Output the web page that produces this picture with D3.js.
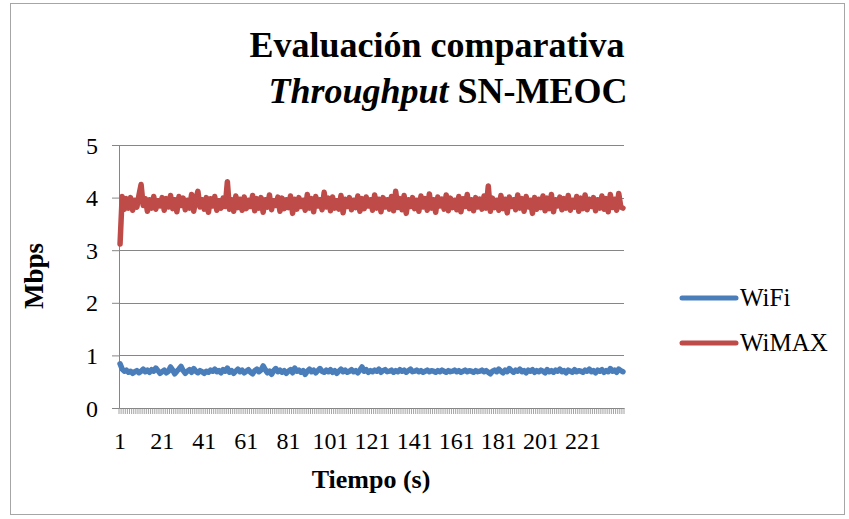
<!DOCTYPE html>
<html>
<head>
<meta charset="utf-8">
<script src="https://cdn.jsdelivr.net/npm/d3@7/dist/d3.min.js"></script>
<style>
  body { margin: 0; background: #fff; }
</style>
</head>
<body>
<script>
// values (Mbps per second)
const wifi = [
  0.84, 0.74, 0.70, 0.72, 0.68, 0.70, 0.66, 0.69, 0.71, 0.67, 0.70, 0.74, 0.69, 0.72, 0.68, 0.73, 0.70, 0.76, 0.71, 0.66,
  0.69, 0.72, 0.67, 0.70, 0.78, 0.72, 0.65, 0.70, 0.74, 0.79, 0.71, 0.66, 0.70, 0.73, 0.68, 0.75, 0.70, 0.67, 0.71, 0.69,
  0.66, 0.70, 0.68, 0.72, 0.70, 0.74, 0.69, 0.71, 0.67, 0.73, 0.70, 0.76, 0.68, 0.71, 0.66, 0.70, 0.74, 0.69, 0.72, 0.67,
  0.70, 0.73, 0.68, 0.65, 0.71, 0.74, 0.69, 0.72, 0.80, 0.73, 0.67, 0.70, 0.64, 0.71, 0.75, 0.69, 0.72, 0.68, 0.71, 0.66,
  0.70, 0.73, 0.67, 0.76, 0.70, 0.72, 0.68, 0.71, 0.64, 0.70, 0.74, 0.69, 0.72, 0.67, 0.71, 0.75, 0.70, 0.68, 0.72, 0.69,
  0.73, 0.68, 0.71, 0.66, 0.70, 0.74, 0.69, 0.72, 0.68, 0.70, 0.73, 0.69, 0.71, 0.67, 0.72, 0.78, 0.70, 0.73, 0.68, 0.71,
  0.69, 0.72, 0.70, 0.74, 0.68, 0.71, 0.73, 0.69, 0.70, 0.72, 0.68, 0.71, 0.69, 0.73, 0.70, 0.72, 0.68, 0.71, 0.74, 0.69,
  0.70, 0.72, 0.69, 0.71, 0.68, 0.70, 0.72, 0.69, 0.71, 0.70, 0.68, 0.71, 0.69, 0.72, 0.70, 0.68, 0.71, 0.69, 0.70, 0.72,
  0.69, 0.71, 0.68, 0.70, 0.72, 0.69, 0.71, 0.70, 0.68, 0.71, 0.69, 0.70, 0.72, 0.69, 0.71, 0.68, 0.65, 0.70, 0.72, 0.69,
  0.74, 0.70, 0.67, 0.72, 0.69, 0.75, 0.71, 0.68, 0.72, 0.70, 0.74, 0.69, 0.71, 0.67, 0.72, 0.70, 0.73, 0.68, 0.71, 0.69,
  0.72, 0.70, 0.67, 0.73, 0.69, 0.71, 0.68, 0.72, 0.70, 0.74, 0.69, 0.71, 0.67, 0.72, 0.70, 0.68, 0.73, 0.69, 0.71, 0.70,
  0.68, 0.72, 0.70, 0.74, 0.69, 0.71, 0.67, 0.72, 0.70, 0.73, 0.68, 0.71, 0.69, 0.75, 0.70, 0.72, 0.68, 0.74, 0.71, 0.69
]
const wimax = [
  3.12, 4.02, 3.78, 3.98, 3.80, 4.00, 3.76, 3.95, 3.82, 4.05, 4.25, 3.85, 3.98, 3.74, 3.96, 3.80, 4.02, 3.78, 3.94, 3.84,
  4.00, 3.76, 3.98, 3.82, 4.04, 3.79, 3.96, 3.73, 4.02, 3.85, 3.99, 3.77, 3.95, 3.80, 4.06, 3.74, 3.97, 4.12, 3.82, 3.96,
  3.78, 4.00, 3.72, 3.98, 3.84, 4.02, 3.76, 3.94, 3.80, 3.99, 3.83, 4.30, 3.78, 3.96, 3.74, 4.03, 3.81, 3.97, 3.76, 4.01,
  3.79, 3.95, 3.83, 4.04, 3.75, 3.98, 3.80, 4.00, 3.72, 3.96, 3.82, 4.05, 3.77, 3.94, 3.85, 4.01, 3.74, 3.99, 3.79, 3.96,
  3.81, 4.03, 3.70, 3.97, 3.78, 4.00, 3.83, 3.95, 3.76, 4.06, 3.80, 3.98, 3.73, 4.02, 3.84, 3.96, 3.77, 4.10, 3.82, 3.99,
  3.75, 4.01, 3.80, 3.94, 3.78, 4.04, 3.71, 3.97, 3.83, 4.00, 3.77, 3.95, 3.81, 4.03, 3.74, 3.98, 3.79, 4.01, 3.84, 3.96,
  3.76, 4.05, 3.80, 3.97, 3.73, 4.00, 3.82, 3.96, 3.78, 4.02, 3.75, 4.12, 3.81, 3.98, 3.77, 4.04, 3.70, 3.96, 3.83, 4.00,
  3.79, 3.95, 3.74, 4.03, 3.82, 3.98, 3.76, 4.07, 3.80, 3.96, 3.72, 4.01, 3.84, 3.97, 3.78, 4.05, 3.75, 3.99, 3.81, 3.95,
  3.77, 4.02, 3.73, 3.98, 3.83, 4.06, 3.79, 3.96, 3.75, 4.00, 3.82, 3.97, 3.78, 4.03, 3.80, 4.22, 3.74, 3.99, 3.81, 3.95,
  3.76, 4.04, 3.79, 3.97, 3.71, 4.01, 3.83, 3.96, 3.77, 4.05, 3.80, 3.98, 3.74, 4.02, 3.82, 3.95, 3.70, 4.00, 3.78, 3.97,
  3.81, 4.03, 3.75, 3.99, 3.79, 4.06, 3.73, 3.96, 3.84, 4.01, 3.77, 3.98, 3.80, 4.04, 3.76, 3.95, 3.82, 4.02, 3.74, 3.99,
  3.79, 4.05, 3.77, 3.97, 3.83, 4.00, 3.75, 3.96, 3.80, 4.03, 3.78, 3.98, 3.73, 4.06, 3.81, 3.97, 3.76, 4.08, 3.82, 3.80
]
const seconds = d3.range(1, wifi.length + 1)
const yTicks = [0, 1, 2, 3, 4, 5]
const xLabels = d3.range(1, 222, 20)
const series = [
  {name: "WiFi", values: wifi, color: "#4a7ebb"},
  {name: "WiMAX", values: wimax, color: "#be4b48"}
]

const W = 849, H = 519
const margin = {top: 145, right: 225, bottom: 111, left: 119}
const width = W - margin.left - margin.right,
      height = H - margin.top - margin.bottom

const svg = d3.select("body").append("svg")
    .attr("width", W)
    .attr("height", H)

svg.append("rect")
    .attr("x", 10.5).attr("y", 3.5)
    .attr("width", 834).attr("height", 511)
    .attr("fill", "#fff")
    .attr("stroke", "#a6a6a6")

const g = svg.append("g")
    .attr("transform", `translate(${margin.left}, ${margin.top})`)

const x = d3.scaleBand().domain(seconds).range([0, width])
const y = d3.scaleLinear().domain([0, 5]).range([height, 0])

// gridlines
g.selectAll(".grid")
    .data(yTicks.filter(d => d > 0))
    .enter().append("line")
    .attr("x1", 0).attr("x2", width)
    .attr("y1", d => Math.round(y(d)) + 0.5)
    .attr("y2", d => Math.round(y(d)) + 0.5)
    .attr("stroke", "#868686")

// y axis
const yAxis = g.append("g")
    .call(d3.axisLeft(y).tickValues(yTicks).tickFormat(d3.format("d")).tickSize(7).tickPadding(14))
yAxis.select(".domain").attr("stroke", "#868686")
yAxis.selectAll(".tick line").attr("stroke", "#868686")
yAxis.selectAll("text")
    .attr("font-size", 24)
    .attr("dy", "0.34em")

// x axis: a tick at every category boundary
const xAxis = g.append("g")
    .attr("transform", `translate(0, ${height})`)
    .call(d3.axisBottom(x).tickValues([]).tickSizeOuter(0))
xAxis.select(".domain").attr("stroke", "#868686")
xAxis.selectAll(".cat")
    .data(seconds.concat([seconds.length + 1]))
    .enter().append("line")
    .attr("x1", d => x.step() * (d - 1))
    .attr("x2", d => x.step() * (d - 1))
    .attr("y1", 0).attr("y2", 6)
    .attr("stroke", "#8c8c8c")
    .attr("stroke-width", 0.8)
xAxis.selectAll(".lbl")
    .data(xLabels)
    .enter().append("text")
    .attr("x", d => x(d) + x.bandwidth() / 2)
    .attr("y", 41)
    .attr("text-anchor", "middle")
    .attr("font-size", 24)
    .text(d => d)

// lines
const line = d3.line()
    .x((d, i) => x(seconds[i]) + x.bandwidth() / 2)
    .y(d => y(d))

g.selectAll(".series")
    .data(series)
    .enter().append("path")
    .attr("d", d => line(d.values))
    .attr("fill", "none")
    .attr("stroke", d => d.color)
    .attr("stroke-width", 5.5)
    .attr("stroke-linejoin", "round")
    .attr("stroke-linecap", "round")

// titles
const title = svg.append("text")
    .attr("text-anchor", "middle")
    .attr("font-weight", "bold")
    .attr("font-size", 36)
title.append("tspan").attr("x", 437).attr("y", 57).text("Evaluación comparativa")
const t2 = title.append("tspan").attr("x", 448).attr("y", 103)
t2.append("tspan").attr("font-style", "italic").text("Throughput")
t2.append("tspan").text(" SN-MEOC")

svg.append("text")
    .attr("x", 371).attr("y", 488)
    .attr("text-anchor", "middle")
    .attr("font-weight", "bold")
    .attr("font-size", 26)
    .text("Tiempo (s)")

svg.append("text")
    .attr("transform", "translate(43, 276) rotate(-90)")
    .attr("text-anchor", "middle")
    .attr("font-weight", "bold")
    .attr("font-size", 27)
    .text("Mbps")

// legend
const legend = svg.selectAll(".legend")
    .data(series)
    .enter().append("g")
    .attr("transform", (d, i) => `translate(682, ${298 + i * 45})`)
legend.append("line")
    .attr("x1", 0).attr("x2", 54)
    .attr("stroke", d => d.color)
    .attr("stroke-width", 5)
    .attr("stroke-linecap", "round")
legend.append("text")
    .attr("x", 58).attr("y", 8)
    .attr("font-size", 25)
    .text(d => d.name)

svg.selectAll("text")
    .style("font-family", "Liberation Serif")
    .style("fill", "#000")
</script>
</body>
</html>
